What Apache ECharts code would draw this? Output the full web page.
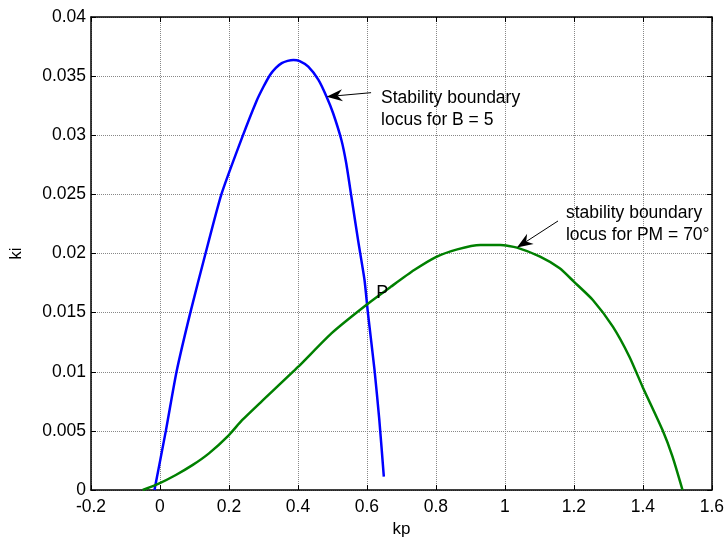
<!DOCTYPE html>
<html>
<head>
<meta charset="utf-8">
<script src="https://cdn.jsdelivr.net/npm/echarts@6/dist/echarts.min.js"></script>
<style>html,body{margin:0;padding:0;background:#fff;}#c{width:727px;height:544px;}</style>
</head>
<body>
<div id="c"></div>
<script>
// Data
var blueKp = [-0.016, 0.017, 0.048, 0.088, 0.132, 0.178, 0.238, 0.28, 0.3, 0.319, 0.336, 0.353, 0.37, 0.387, 0.405, 0.43, 0.459, 0.483, 0.502, 0.526, 0.54, 0.555, 0.575, 0.593, 0.603, 0.622, 0.636, 0.649];
var blueKi = [0, 0.005, 0.01, 0.015, 0.02, 0.025, 0.0298, 0.0329, 0.0341, 0.0351, 0.0357, 0.0361, 0.03629, 0.03637, 0.03627, 0.0358, 0.0347, 0.03326, 0.03186, 0.0296, 0.02763, 0.0248, 0.021, 0.01776, 0.01494, 0.01015, 0.0059, 0.00113];
var greenKp = [-0.05, -0.002, 0.046, 0.094, 0.142, 0.2, 0.238, 0.295, 0.401, 0.497, 0.598, 0.67, 0.737, 0.8, 0.862, 0.929, 0.987, 1.035, 1.102, 1.159, 1.2, 1.255, 1.313, 1.361, 1.399, 1.457, 1.486, 1.515];
var greenKi = [0, 0.00056, 0.00127, 0.0021, 0.0031, 0.00465, 0.0059, 0.0075, 0.01043, 0.01325, 0.01565, 0.0172, 0.0186, 0.0197, 0.02035, 0.02072, 0.02072, 0.0205, 0.01973, 0.01875, 0.01762, 0.01607, 0.01381, 0.01127, 0.00874, 0.00507, 0.00282, 0];
var xTicks = [-0.2, 0, 0.2, 0.4, 0.6, 0.8, 1, 1.2, 1.4, 1.6];
var yTicks = [0, 0.005, 0.01, 0.015, 0.02, 0.025, 0.03, 0.035, 0.04];
var labelB = ['Stability boundary', 'locus for B = 5'];
var labelPM = ['stability boundary', 'locus for PM = 70\u00b0'];
var arrowB = {tip: [0.483, 0.03326], tail: [0.612, 0.0336], text: [0.641, 0.0341]};
var arrowPM = {tip: [1.035, 0.0205], tail: [1.154, 0.02275], text: [1.177, 0.02435]};
var pointP = [0.627, 0.01742];

function zip(a, b) { return a.map(function (v, i) { return [v, b[i]]; }); }
var FONT = '"Liberation Sans", Arial, sans-serif';
var gridLine = {show: true, lineStyle: {color: '#888', type: [1, 1], width: 1}};
var chart = echarts.init(document.getElementById('c'), null, {renderer: 'canvas'});
var fmt = function (v) { return String(+(+v).toFixed(4)); };
chart.setOption({
  animation: false,
  backgroundColor: '#fff',
  grid: {left: 88, right: 14, top: 17, bottom: 54},
  xAxis: [{
    type: 'value', min: xTicks[0], max: xTicks[xTicks.length - 1], interval: 0.2,
    name: 'kp', nameLocation: 'middle', nameGap: 29,
    nameTextStyle: {fontFamily: FONT, fontSize: 17, color: '#000'},
    axisLine: {show: true, onZero: false, lineStyle: {color: '#000', width: 1.5}},
    axisTick: {show: true, inside: true, length: 5, lineStyle: {color: '#000'}},
    axisLabel: {formatter: fmt, fontFamily: FONT, fontSize: 17.5, color: '#000', margin: 8},
    splitLine: gridLine
  }, {
    type: 'value', position: 'top', min: xTicks[0], max: xTicks[xTicks.length - 1], interval: 0.2,
    axisLine: {show: true, onZero: false, lineStyle: {color: '#000', width: 1.5}},
    axisTick: {show: true, inside: true, length: 5, lineStyle: {color: '#000'}},
    axisLabel: {show: false}, splitLine: {show: false}
  }],
  yAxis: [{
    type: 'value', min: yTicks[0], max: yTicks[yTicks.length - 1], interval: 0.005,
    name: 'ki', nameLocation: 'middle', nameGap: 66, nameRotate: 90,
    nameTextStyle: {fontFamily: FONT, fontSize: 17, color: '#000'},
    axisLine: {show: true, onZero: false, lineStyle: {color: '#000', width: 1.5}},
    axisTick: {show: true, inside: true, length: 5, lineStyle: {color: '#000'}},
    axisLabel: {formatter: fmt, fontFamily: FONT, fontSize: 17.5, color: '#000', margin: 5},
    splitLine: gridLine
  }, {
    type: 'value', position: 'right', min: yTicks[0], max: yTicks[yTicks.length - 1], interval: 0.005,
    axisLine: {show: true, onZero: false, lineStyle: {color: '#000', width: 1.5}},
    axisTick: {show: true, inside: true, length: 5, lineStyle: {color: '#000'}},
    axisLabel: {show: false}, splitLine: {show: false}
  }],
  series: [{
    type: 'line', data: zip(blueKp, blueKi), showSymbol: false, smooth: 0.2,
    lineStyle: {color: '#0000ff', width: 2.5}, z: 3
  }, {
    type: 'line', data: zip(greenKp, greenKi), showSymbol: false, smooth: 0.2,
    lineStyle: {color: '#008000', width: 2.5}, z: 3
  }]
});

function px(p) { return chart.convertToPixel({xAxisIndex: 0, yAxisIndex: 0}, p); }
function arrowGraphics(a) {
  var tip = px(a.tip), tail = px(a.tail);
  var dx = tail[0] - tip[0], dy = tail[1] - tip[1];
  var L = Math.sqrt(dx * dx + dy * dy); var ux = dx / L, uy = dy / L;
  var nx = -uy, ny = ux;
  var hl = 16, hw = 6, back = 11;
  var p1 = [tip[0] + ux * hl + nx * hw, tip[1] + uy * hl + ny * hw];
  var p2 = [tip[0] + ux * back, tip[1] + uy * back];
  var p3 = [tip[0] + ux * hl - nx * hw, tip[1] + uy * hl - ny * hw];
  return [
    {type: 'line', shape: {x1: tip[0] + ux * back, y1: tip[1] + uy * back, x2: tail[0], y2: tail[1]}, style: {stroke: '#000', lineWidth: 1}, z: 10},
    {type: 'polygon', shape: {points: [tip, p1, p2, p3]}, style: {fill: '#000'}, z: 10}
  ];
}
function textGraphic(pos, lines) {
  var p = px(pos);
  return {type: 'text', x: p[0], y: p[1], z: 10,
    style: {text: lines.join('\n'), font: '17.5px ' + FONT, fill: '#000', lineHeight: 22, verticalAlign: 'top'}};
}
var pP = px(pointP);
chart.setOption({
  graphic: [].concat(
    arrowGraphics(arrowB), arrowGraphics(arrowPM),
    [textGraphic(arrowB.text, labelB), textGraphic(arrowPM.text, labelPM),
     {type: 'text', x: pP[0], y: pP[1], z: 10, style: {text: 'P', font: '18px ' + FONT, fill: '#000', verticalAlign: 'top'}}]
  )
});
</script>
</body>
</html>
